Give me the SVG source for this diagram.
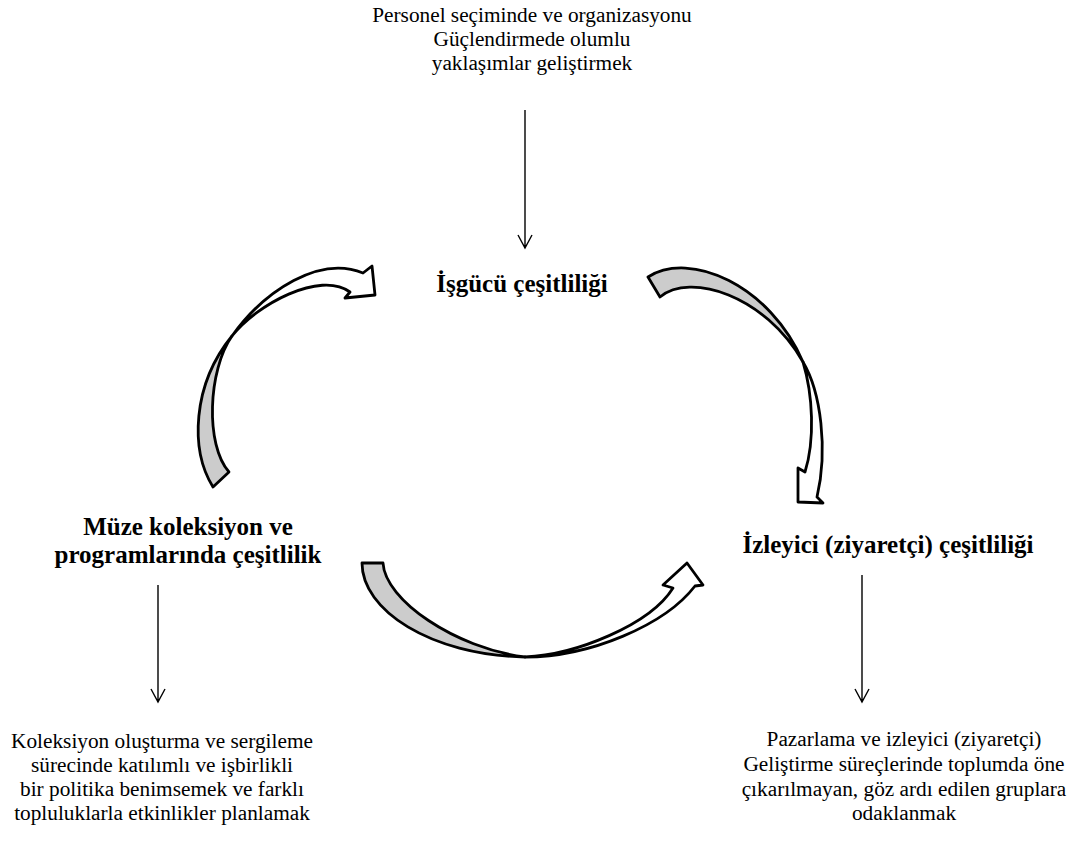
<svg xmlns="http://www.w3.org/2000/svg" width="1071" height="841" viewBox="0 0 1071 841">
  <style>
    .note { font-family: "Liberation Serif", "Times New Roman", serif; font-size: 21.3px; fill: #000; text-anchor: middle; }
    .title { font-family: "Liberation Serif", "Times New Roman", serif; font-size: 25px; font-weight: bold; fill: #000; text-anchor: middle; }
    .thin { fill: none; stroke: #000; stroke-width: 1.4; }
    .back { fill: #cccccc; stroke: #000; stroke-width: 2.8; stroke-linejoin: round; }
    .front { fill: #fff; stroke: #000; stroke-width: 2.8; stroke-linejoin: round; }
  </style>
  <rect width="1071" height="841" fill="#fff"/>

  <g id="node-personel">
    <text class="note" x="532" y="22">Personel seçiminde ve organizasyonu</text>
    <text class="note" x="532" y="46">Güçlendirmede olumlu</text>
    <text class="note" x="532" y="70">yaklaşımlar geliştirmek</text>
  </g>

  <g id="node-isgucu">
    <text class="title" x="522" y="292">İşgücü çeşitliliği</text>
  </g>

  <g id="node-muze">
    <text class="title" x="188" y="535">Müze koleksiyon ve</text>
    <text class="title" x="188" y="563">programlarında çeşitlilik</text>
  </g>

  <g id="node-izleyici">
    <text class="title" x="888" y="553">İzleyici (ziyaretçi) çeşitliliği</text>
  </g>

  <g id="node-koleksiyon">
    <text class="note" x="162" y="748">Koleksiyon oluşturma ve sergileme</text>
    <text class="note" x="162" y="772">sürecinde katılımlı ve işbirlikli</text>
    <text class="note" x="162" y="796">bir politika benimsemek ve farklı</text>
    <text class="note" x="162" y="820">topluluklarla etkinlikler planlamak</text>
  </g>

  <g id="node-pazarlama">
    <text class="note" x="904" y="746">Pazarlama ve izleyici (ziyaretçi)</text>
    <text class="note" x="904" y="771">Geliştirme süreçlerinde toplumda öne</text>
    <text class="note" x="904" y="796">çıkarılmayan, göz ardı edilen gruplara</text>
    <text class="note" x="904" y="820">odaklanmak</text>
  </g>

  <g id="connectors">
    <!-- straight arrows between goals and themes -->
    <path class="thin" d="M525,110 V248 M518,235 L525,248 L532,235"/>
    <path class="thin" d="M158,585 V702 M151,689 L158,702 L165,689"/>
    <path class="thin" d="M862,575 V702 M855,689 L862,702 L869,689"/>

    <!-- curved arrow: collections -> workforce -->
    <path class="back" d="M213,487 C190,450 192,385 232,336 C208,370 205,445 229,472 Z"/>
    <path class="front" d="M232,336 C265,290 320,255 363,273 L372,266 L375,295 L345,298 L350,292 C320,270 256,305 232,336 Z"/>

    <!-- curved arrow: workforce -> audience -->
    <path class="back" d="M648,277 C690,250 770,285 803,362 C765,295 690,272 660,297 Z"/>
    <path class="front" d="M803,362 C821,392 828,450 817,497 L823,503 L798,502 L798,468 L805,472 C815,440 813,395 803,362 Z"/>

    <!-- curved arrow: collections -> audience -->
    <path class="back" d="M362,563 C362,610 430,655 525,657 C455,648 385,600 383,563 Z"/>
    <path class="front" d="M525,657 C590,657 665,625 695,586 L703,585 L687,563 L663,585 L673,588 C650,625 575,655 525,657 Z"/>
  </g>
</svg>
